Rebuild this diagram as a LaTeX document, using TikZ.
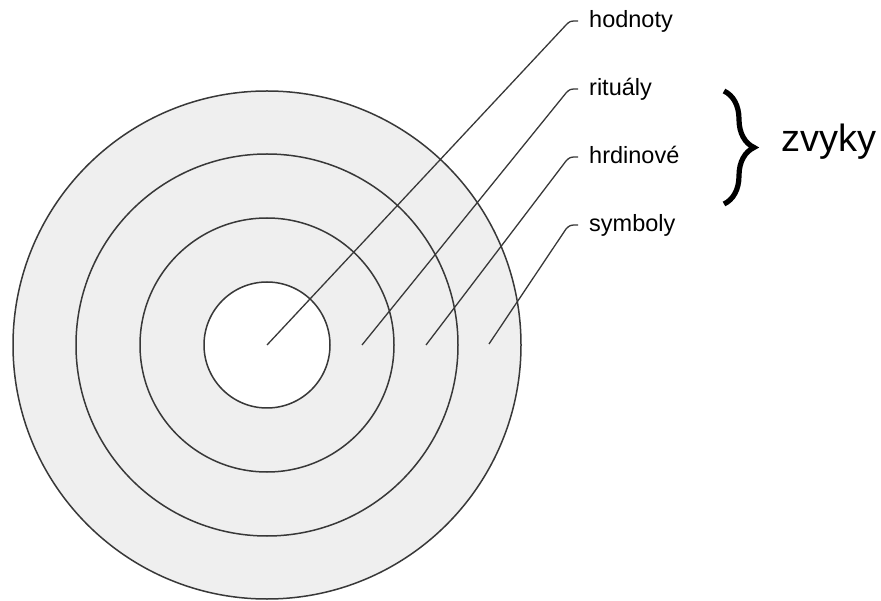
\documentclass[tikz,border=0pt]{standalone}
\usepackage{fontspec}
\setmainfont{Liberation Sans}
\usetikzlibrary{calc, decorations.pathreplacing}

\definecolor{ringgray}{HTML}{EFEFEF}
\definecolor{linegray}{HTML}{383838}

\tikzset{
    ring/.style={draw=linegray, line width=1.5pt},
    lbl/.style={anchor=base west, inner sep=0pt, font=\fontsize{23.5}{28}\selectfont},
    pointer/.style={draw=linegray, line width=1.3pt}
}

\begin{document}
\begin{tikzpicture}[x=1pt, y=-1pt]

        \useasboundingbox (0,0) rectangle (881,601);

        % ==========================================
        % Kruhy (cibule kultury)
        % ==========================================

        \coordinate (stred) at (267,345);

        \fill[ringgray] (stred) circle (254);
        \draw[ring] (stred) circle (254);
        \draw[ring] (stred) circle (191);
        \draw[ring] (stred) circle (127);
        \draw[ring, fill=white] (stred) circle (63);

        % Zacatky ukazatelu v jednotlivych vrstvach
        \coordinate (c1) at (267,345);
        \coordinate (c2) at (362,345);
        \coordinate (c3) at (426,345);
        \coordinate (c4) at (489,344);


        % ==========================================
        % Popisky
        % ==========================================

        \node[lbl] (hodnoty)  at (589,28)  {hodnoty};
        \node[lbl] (ritualy)  at (589,96)  {rituály};
        \node[lbl] (hrdinove) at (589,164) {hrdinové};
        \node[lbl] (symboly)  at (589,232) {symboly};

        % Ukazatele s malym hackem na konci
        \foreach \c/\n in {c1/hodnoty, c2/ritualy, c3/hrdinove, c4/symboly} {
            \draw[pointer] (\c) -- ($(\n.base west)+(-23,-3)$)
                .. controls ($(\n.base west)+(-19,-7)$) .. ($(\n.base west)+(-11,-7)$);
        }


        % ==========================================
        % Zavorka a "zvyky"
        % ==========================================

        \coordinate (zhora) at (724,91);
        \coordinate (zdola) at (724,204);
        \draw[line width=5.2pt, decorate, decoration={brace, amplitude=30pt}]
            (zhora) -- (zdola);

        \node[anchor=base west, inner sep=0pt, font=\fontsize{38}{44}\selectfont]
            (zvyky) at (781,152) {zvyky};

    \end{tikzpicture}
\end{document}
